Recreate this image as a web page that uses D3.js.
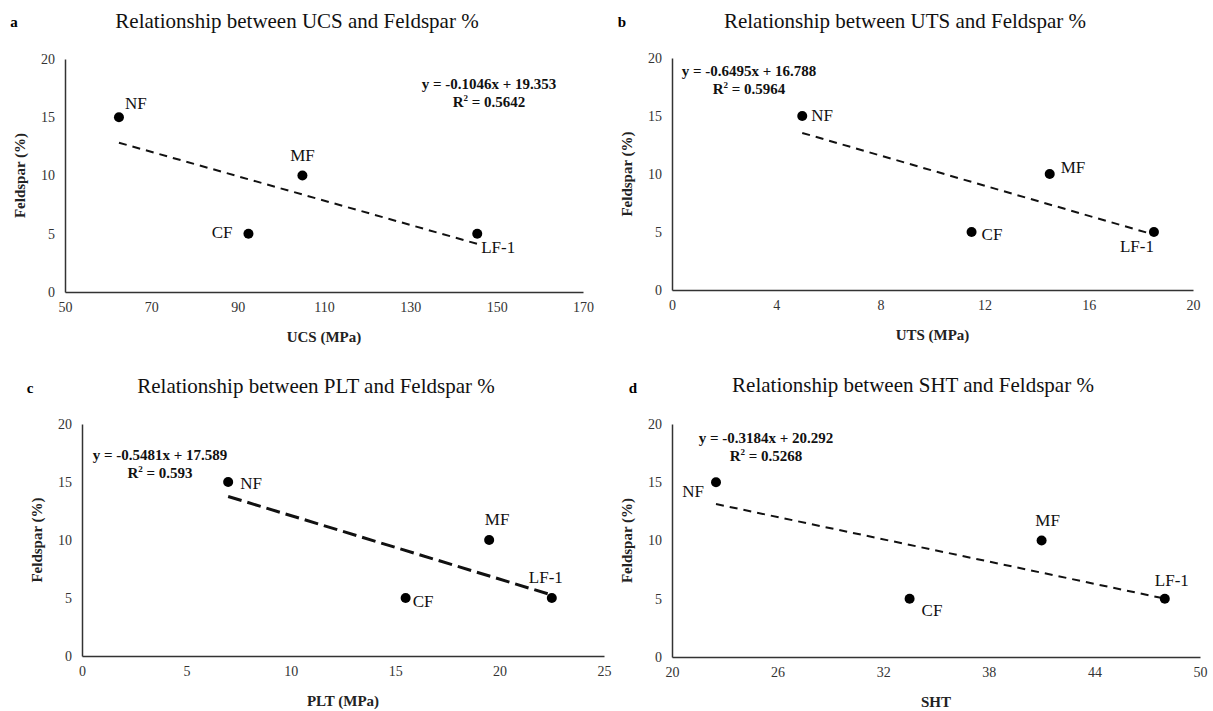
<!DOCTYPE html>
<html>
<head>
<meta charset="utf-8">
<script src="https://cdn.jsdelivr.net/npm/d3@7"></script>
<style>
  html,body{margin:0;padding:0;background:#fff;}
  svg{display:block;}
  svg text{font-family:"Liberation Serif","Times New Roman",serif;}
</style>
</head>
<body>
<svg id="chart" width="1213" height="711"></svg>
<script>
// samples (same order in every panel)
const samples=["NF","MF","CF","LF-1"];
const feldspar=[15,10,5,5];

const ucs=[62.5,105,92.5,145.5];
const uts=[5,14.5,11.5,18.5];
const plt=[7,19.5,15.5,22.5];
const sht=[22.5,41,33.5,48];

const feldTicks=[0,5,10,15,20];
const ucsTicks=[50,70,90,110,130,150,170];
const utsTicks=[0,4,8,12,16,20];
const pltTicks=[0,5,10,15,20,25];
const shtTicks=[20,26,32,38,44,50];

const fits=[
  {slope:-0.1046,icpt:19.353,eq:"y = -0.1046x + 19.353",r2:"0.5642"},
  {slope:-0.6495,icpt:16.788,eq:"y = -0.6495x + 16.788",r2:"0.5964"},
  {slope:-0.5481,icpt:17.589,eq:"y = -0.5481x + 17.589",r2:"0.593"},
  {slope:-0.3184,icpt:20.292,eq:"y = -0.3184x + 20.292",r2:"0.5268"}
];

const svg=d3.select("#chart");

// layout of each panel (pixel box of plot area + label nudges)
const panels=[
  {tag:"a",title:"Relationship between UCS and Feldspar %",xs:ucs,ticks:ucsTicks,xLabel:"UCS (MPa)",fit:fits[0],
   box:{x0:65,x1:583,y0:59,y1:292},tagPos:[14,27],titleX:297,titleY:28,eqX:489,eqY:89,
   dash:"8,6",lw:2,
   lab:[{dx:6,dy:-8,a:"start"},{dx:0,dy:-15,a:"middle"},{dx:-16,dy:4,a:"end"},{dx:4,dy:19,a:"start"}]},
  {tag:"b",title:"Relationship between UTS and Feldspar %",xs:uts,ticks:utsTicks,xLabel:"UTS (MPa)",fit:fits[1],
   box:{x0:672,x1:1193,y0:58,y1:290},tagPos:[622,27],titleX:905,titleY:28,eqX:749,eqY:76,
   dash:"8,6",lw:2,
   lab:[{dx:9,dy:5,a:"start"},{dx:11,dy:-1,a:"start"},{dx:10,dy:8,a:"start"},{dx:0,dy:20,a:"end"}]},
  {tag:"c",title:"Relationship between PLT and Feldspar %",xs:plt,ticks:pltTicks,xLabel:"PLT (MPa)",fit:fits[2],
   box:{x0:82,x1:604,y0:424,y1:656},tagPos:[30,393],titleX:316,titleY:393,eqX:160,eqY:460,
   dash:"14,6",lw:3,
   lab:[{dx:12,dy:7,a:"start"},{dx:8,dy:-15,a:"middle"},{dx:7,dy:9,a:"start"},{dx:-6,dy:-15,a:"middle"}]},
  {tag:"d",title:"Relationship between SHT and Feldspar %",xs:sht,ticks:shtTicks,xLabel:"SHT",fit:fits[3],
   box:{x0:672,x1:1200,y0:424,y1:657},tagPos:[633,393],titleX:913,titleY:392,eqX:766,eqY:443,
   dash:"8,6",lw:2,
   lab:[{dx:-12,dy:15,a:"end"},{dx:6,dy:-15,a:"middle"},{dx:12,dy:17,a:"start"},{dx:7,dy:-13,a:"middle"}]}
];

panels.forEach(drawPanel);

function drawPanel(p){
  const b=p.box;
  const g=svg.append("g");
  const x=d3.scaleLinear().domain(d3.extent(p.ticks)).range([b.x0,b.x1]);
  const y=d3.scaleLinear().domain(d3.extent(feldTicks)).range([b.y1,b.y0]);

  g.append("text").attr("x",p.tagPos[0]).attr("y",p.tagPos[1])
    .attr("font-size",15).attr("font-weight","bold").attr("text-anchor","middle").text(p.tag);
  g.append("text").attr("x",p.titleX).attr("y",p.titleY)
    .attr("font-size",21).attr("text-anchor","middle").attr("fill","#111").text(p.title);

  const xa=g.append("g").attr("transform",`translate(0,${b.y1})`)
    .call(d3.axisBottom(x).tickValues(p.ticks).tickSize(0).tickPadding(10));
  const ya=g.append("g").attr("transform",`translate(${b.x0},0)`)
    .call(d3.axisLeft(y).tickValues(feldTicks).tickSize(0).tickPadding(10));
  [xa,ya].forEach(a=>{
    a.attr("font-family",null);
    a.select(".domain").attr("stroke","#333").attr("stroke-width",1.5);
    a.selectAll("text").attr("font-size",14).attr("fill","#333");
  });

  g.append("text").attr("x",(b.x0+b.x1)/2).attr("y",b.y1+50)
    .attr("text-anchor","middle").attr("font-size",15).attr("font-weight","bold").attr("fill","#222").text(p.xLabel);
  g.append("text").attr("transform",`translate(${b.x0-40},${(b.y0+b.y1)/2}) rotate(-90)`)
    .attr("text-anchor","middle").attr("font-size",15).attr("font-weight","bold").attr("fill","#222").text("Feldspar (%)");

  // trendline over the data range
  const ext=d3.extent(p.xs);
  g.append("path")
    .attr("d",d3.line().x(v=>x(v)).y(v=>y(p.fit.slope*v+p.fit.icpt))(ext))
    .attr("fill","none").attr("stroke","#111").attr("stroke-width",p.lw).attr("stroke-dasharray",p.dash);

  const pts=samples.map((s,i)=>({s,xv:p.xs[i],yv:feldspar[i],l:p.lab[i]}));
  g.selectAll("circle").data(pts).join("circle")
    .attr("cx",d=>x(d.xv)).attr("cy",d=>y(d.yv)).attr("r",5).attr("fill","#000");
  g.selectAll("text.lbl").data(pts).join("text").attr("class","lbl")
    .attr("x",d=>x(d.xv)+d.l.dx).attr("y",d=>y(d.yv)+d.l.dy)
    .attr("text-anchor",d=>d.l.a).attr("font-size",17).attr("fill","#111").text(d=>d.s);

  const eq=g.append("g").attr("font-size",15).attr("font-weight","bold").attr("text-anchor","middle").attr("fill","#111");
  eq.append("text").attr("x",p.eqX).attr("y",p.eqY).text(p.fit.eq);
  const r=eq.append("text").attr("x",p.eqX).attr("y",p.eqY+18);
  r.append("tspan").text("R");
  r.append("tspan").attr("font-size",9).attr("dy",-6).text("2");
  r.append("tspan").attr("dy",6).text(" = "+p.fit.r2);
}
</script>
</body>
</html>
